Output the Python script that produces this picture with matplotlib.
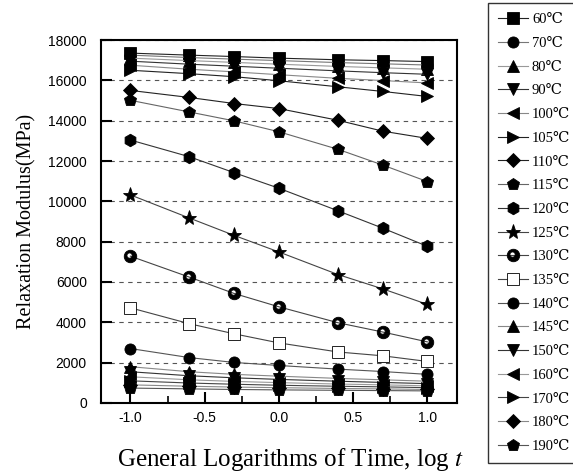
import numpy as np
import matplotlib
matplotlib.use("Agg")
import matplotlib.pyplot as plt
from matplotlib.path import Path

plt.rcParams['mathtext.fontset'] = 'stix'

# ---- data ----
times = [0.1, 0.25, 0.5, 1.0, 2.5, 5.0, 10.0]
log_t = np.log10(times)

temps = ["60", "70", "80", "90", "100", "105", "110", "115", "120", "125",
         "130", "135", "140", "145", "150", "160", "170", "180", "190"]

m60 = [17350, 17250, 17180, 17100, 17020, 16980, 16930]
m70 = [17250, 17130, 17050, 16980, 16880, 16820, 16760]
m80 = [17100, 16980, 16890, 16800, 16690, 16620, 16550]
m90 = [16950, 16800, 16700, 16600, 16470, 16380, 16300]
m100 = [16750, 16550, 16420, 16280, 16100, 15990, 15870]
m105 = [16500, 16330, 16180, 15980, 15680, 15450, 15200]
m110 = [15500, 15150, 14850, 14600, 14020, 13480, 13120]
m115 = [15010, 14430, 13990, 13450, 12580, 11800, 10980]
m120 = [13040, 12210, 11420, 10650, 9530, 8670, 7770]
m125 = [10320, 9170, 8310, 7490, 6370, 5660, 4890]
m130 = [7280, 6240, 5430, 4770, 3980, 3520, 3030]
m135 = [4720, 3930, 3430, 2980, 2530, 2340, 2060]
m140 = [2700, 2250, 2010, 1860, 1680, 1560, 1420]
m145 = [1800, 1550, 1420, 1330, 1220, 1150, 1080]
m150 = [1550, 1350, 1250, 1170, 1080, 1020, 960]
m160 = [1300, 1150, 1070, 1010, 940, 900, 850]
m170 = [1100, 990, 930, 880, 830, 800, 760]
m180 = [900, 830, 790, 760, 720, 700, 670]
m190 = [740, 700, 670, 650, 630, 615, 600]

series = [m60, m70, m80, m90, m100, m105, m110, m115, m120, m125,
          m130, m135, m140, m145, m150, m160, m170, m180, m190]

yticks = [0, 2000, 4000, 6000, 8000, 10000, 12000, 14000, 16000, 18000]
xticks = [-1.0, -0.5, 0.0, 0.5, 1.0]

# custom marker: black circle with white highlight
theta = np.linspace(0, -2 * np.pi, 40)
inner = np.column_stack([-0.15 + 0.42 * np.cos(theta), 0.15 + 0.42 * np.sin(theta)])
hole = Path(inner, closed=True)
ball = Path.make_compound_path(Path.unit_circle(), hole)

markers = ['s', 'o', '^', 'v', '<', '>', 'D', 'p', 'h', '*',
           ball, 's', 'o', '^', 'v', '<', '>', 'D', 'p']
sizes = [8, 8, 8, 8, 8, 8, 7, 9, 9, 11,
         9, 8, 8, 8, 8, 8, 8, 7, 9]
lcolors = ['#222222', '#777777', '#999999', '#333333', '#888888', '#222222',
           '#222222', '#666666', '#333333', '#444444', '#444444', '#444444',
           '#555555', '#888888', '#333333', '#999999', '#444444', '#888888', '#555555']

fig = plt.figure(figsize=(5.73, 4.74), dpi=100)
ax = fig.add_axes([0.1757, 0.1498, 0.622, 0.7658])

handles = []
for i, (t, y) in enumerate(zip(temps, series)):
    face = 'white' if t == "135" else 'black'
    ln, = ax.plot(log_t, y, color=lcolors[i], lw=0.8, marker=markers[i],
                  markersize=sizes[i], markerfacecolor=face,
                  markeredgecolor='black', markeredgewidth=0.6,
                  label=t + "℃", zorder=3)
    handles.append(ln)

ax.set_xlim(-1.2, 1.2)
ax.set_ylim(0, 18000)
ax.set_xticks(xticks)
ax.set_xticks([-0.75, -0.25, 0.25, 0.75], minor=True)
ax.set_yticks(yticks)
ax.set_xticklabels(["%.1f" % v for v in xticks], family='Liberation Sans', fontsize=10)
ax.set_yticklabels([str(v) for v in yticks], family='Liberation Sans', fontsize=10)
ax.tick_params(axis='both', which='major', direction='in', length=8, width=1.5,
               top=False, right=False)
ax.tick_params(axis='y', pad=10)
ax.tick_params(axis='x', pad=6)
ax.tick_params(axis='x', which='minor', direction='in', length=5, width=1.2, top=False)
for sp in ax.spines.values():
    sp.set_linewidth(1.5)
ax.yaxis.grid(True, linestyle=(0, (4, 4)), color='#555555', lw=0.8)
ax.set_axisbelow(True)

ax.set_ylabel("Relaxation Modulus(MPa)", family='Liberation Serif', fontsize=14.5, labelpad=8)
ax.set_xlabel("General Logarithms of Time, log $\\mathit{t}$", family='Liberation Serif',
              fontsize=18)
ax.xaxis.set_label_coords(0.531, -0.118)

leg = fig.legend(handles=handles, loc='upper left', bbox_to_anchor=(0.852, 0.994),
                 frameon=True, fancybox=False, edgecolor='black',
                 prop={'family': ['Liberation Serif', 'DejaVu Serif'], 'size': 10.5},
                 handlelength=2.0, handletextpad=0.3, labelspacing=0.72,
                 borderpad=0.7, borderaxespad=0)
leg.get_frame().set_linewidth(1.0)

fig.savefig("out.png", dpi=100)
